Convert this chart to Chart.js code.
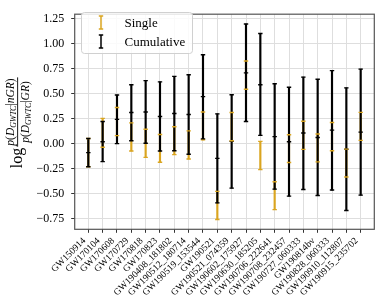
<!DOCTYPE html>
<html><head><meta charset="utf-8">
<script src="https://cdn.jsdelivr.net/npm/chart.js@4.4.1/dist/chart.umd.min.js"></script>
<style>html,body{margin:0;padding:0;background:#fff}#wrap{width:381px;height:301px}</style>
</head><body><div id="wrap"><canvas id="c" width="381" height="301"></canvas></div>
<script>
const labels = ['GW150914','GW170104','GW170608','GW170729','GW170818','GW170823','GW190408_181802','GW190512_180714','GW190519_153544','GW190521','GW190521_074359','GW190602_175927','GW190630_185205','GW190706_222641','GW190708_232457','GW190727_060333','GW190814bv','GW190828_060333','GW190910_112807','GW190915_235702'];
const cumLo  = [-0.231,-0.180,0.000,0.029,0.003,-0.074,-0.071,-0.106,0.048,-0.593,-0.446,0.221,0.083,-0.456,-0.526,-0.459,-0.519,-0.465,-0.670,-0.516];
const cumHi  = [0.051,0.221,0.487,0.589,0.631,0.618,0.673,0.689,0.890,0.298,0.490,1.198,1.102,0.599,0.564,0.666,0.644,0.731,0.558,0.746];
const cumMid = [-0.090,0.019,0.243,0.311,0.317,0.272,0.301,0.291,0.471,-0.148,0.022,0.708,0.589,0.070,0.019,0.106,0.061,0.135,-0.056,0.115];
const sglLo  = [-0.231,-0.036,0.080,-0.074,-0.138,-0.186,-0.110,-0.154,0.038,-0.760,0.029,0.544,-0.260,-0.661,-0.189,-0.058,-0.183,-0.071,-0.334,0.032];
const sglHi  = [0.051,0.253,0.362,0.208,0.144,0.092,0.169,0.128,0.317,-0.478,0.311,0.827,0.022,-0.382,0.089,0.224,0.096,0.212,-0.055,0.313];
const yTicks = [-0.75,-0.5,-0.25,0,0.25,0.5,0.75,1.0,1.25];
const seriesNames = ['Single','Cumulative'];

const ORANGE = '#DAA520', BLACK = '#000000';
const SERIF = '"Liberation Serif", "DejaVu Serif", serif';
Chart.defaults.font.family = SERIF;

const idx = labels.map((_, i) => i);
const caps = (arr) => arr.map((v, i) => ({x: i, y: v}));
const capDs = (data, color, order) => ({
  type: 'line', data, showLine: false, order,
  pointStyle: 'line', pointRadius: 2.2, pointHoverRadius: 2.2,
  pointBorderColor: color, pointBackgroundColor: color, pointBorderWidth: 1.4
});

const yLabelPlugin = {
  id: 'ylabel',
  afterDraw(chart) {
    const ctx = chart.ctx;
    const ca = chart.chartArea;
    const cy = (ca.top + ca.bottom) / 2 + 1;
    ctx.save();
    ctx.fillStyle = '#000';
    ctx.translate(0, cy);
    ctx.rotate(-Math.PI / 2);
    const big = 16, small = 11.5, sub = 8;
    const num = [{t:'p',i:1},{t:'('},{t:'D',i:1},{t:'GWTC',i:1,s:1},{t:'|'},{t:'nGR',i:1},{t:')'}];
    const den = [{t:'p',i:1},{t:'('},{t:'D',i:1},{t:'GWTC',i:1,s:1},{t:'|'},{t:'GR',i:1},{t:')'}];
    const fontOf = (p) => (p.i ? 'italic ' : '') + (p.s ? sub : small) + 'px ' + SERIF;
    const width = (parts) => parts.reduce((w, p) => { ctx.font = fontOf(p); return w + ctx.measureText(p.t).width; }, 0);
    const drawParts = (parts, u0, v) => {
      let u = u0;
      for (const p of parts) {
        ctx.font = fontOf(p);
        ctx.fillText(p.t, u, v + (p.s ? 2.2 : 0));
        u += ctx.measureText(p.t).width;
      }
    };
    ctx.font = big + 'px ' + SERIF;
    const wLog = ctx.measureText('log').width;
    const wn = width(num), wd = width(den);
    const wf = Math.max(wn, wd) + 2;
    const total = wLog + 1 + wf;
    const u0 = -total / 2;
    ctx.textBaseline = 'alphabetic';
    ctx.font = big + 'px ' + SERIF;
    ctx.fillText('log', u0, 21.5);
    const fu = u0 + wLog + 1;
    ctx.fillRect(fu, 17.2, wf, 0.9);
    drawParts(num, fu + (wf - wn) / 2, 13.5);
    drawParts(den, fu + (wf - wd) / 2, 28.5);
    ctx.restore();
  }
};

const framePlugin = {
  id: 'frame',
  afterDatasetsDraw(chart) {
    const {ctx, chartArea: a} = chart;
    ctx.save();
    ctx.strokeStyle = '#555555';
    ctx.lineWidth = 1.2;
    ctx.strokeRect(a.left, a.top, a.right - a.left, a.bottom - a.top);
    ctx.restore();
  }
};

const legendPlugin = {
  id: 'errLegend',
  afterDraw(chart) {
    const ctx = chart.ctx;
    ctx.save();
    const x = 81.5, y = 12.5, w = 111, h = 41, r = 3;
    ctx.beginPath();
    ctx.roundRect(x, y, w, h, r);
    ctx.fillStyle = 'rgba(255,255,255,0.85)';
    ctx.fill();
    ctx.strokeStyle = '#d0d0d0';
    ctx.lineWidth = 1;
    ctx.stroke();
    const items = [{c: ORANGE, cy: 22.5, ty: 23.5}, {c: BLACK, cy: 41.5, ty: 42.5}];
    items.forEach((it, k) => {
      ctx.strokeStyle = it.c;
      ctx.lineWidth = 1.5;
      ctx.beginPath();
      ctx.moveTo(101, it.cy - 6.5); ctx.lineTo(101, it.cy + 6.5);
      ctx.moveTo(98.8, it.cy - 6.5); ctx.lineTo(103.2, it.cy - 6.5);
      ctx.moveTo(98.8, it.cy + 6.5); ctx.lineTo(103.2, it.cy + 6.5);
      ctx.stroke();
      ctx.fillStyle = '#000';
      ctx.font = '13px ' + SERIF;
      ctx.textBaseline = 'middle';
      ctx.fillText(seriesNames[k], 124.5, it.ty);
    });
    ctx.restore();
  }
};

new Chart(document.getElementById('c'), {
  type: 'bar',
  data: {
    datasets: [
      {type: 'bar', label: seriesNames[0], data: idx.map(i => ({x: i, y: [sglLo[i], sglHi[i]]})),
       backgroundColor: ORANGE, barThickness: 1.5, grouped: false, borderWidth: 0, order: 6},
      {type: 'bar', label: seriesNames[1], data: idx.map(i => ({x: i, y: [cumLo[i], cumHi[i]]})),
       backgroundColor: BLACK, barThickness: 1.5, grouped: false, borderWidth: 0, order: 5},
      capDs(caps(cumMid), BLACK, 4),
      capDs(caps(sglLo).concat(caps(sglHi)), ORANGE, 3),
      capDs(caps(cumLo).concat(caps(cumHi)), BLACK, 2)
    ]
  },
  options: {
    responsive: false,
    animation: false,
    events: [],
    layout: {padding: {top: 5.7, right: 6.7, left: 0, bottom: 0}},
    plugins: {legend: {display: false}, tooltip: {enabled: false}},
    scales: {
      x: {
        type: 'linear', min: -0.95, max: 19.95, offset: false,
        afterBuildTicks: (s) => { s.ticks = idx.map(i => ({value: i})); },
        afterFit: (s) => { s.height = 71.7; },
        grid: {color: '#dedede', lineWidth: 1, tickLength: 3.5, tickColor: '#333', tickWidth: 1, offset: false},
        border: {display: false},
        ticks: {autoSkip: false, minRotation: 45, maxRotation: 45, padding: 2.5, labelOffset: -4, color: '#000',
                font: {size: 9.5, family: SERIF}, callback: (v) => labels[v] ?? ''}
      },
      y: {
        type: 'linear', min: -0.858, max: 1.296,
        afterBuildTicks: (s) => { s.ticks = yTicks.map(v => ({value: v})); },
        afterFit: (s) => { s.width = 74.7; },
        grid: {color: '#dedede', lineWidth: 1, tickLength: 3.5, tickColor: '#333', tickWidth: 1},
        border: {display: false},
        ticks: {padding: 7, color: '#000', font: {size: 12, family: SERIF},
                callback: (v) => v.toFixed(2).replace('-', '\u2212')}
      }
    }
  },
  plugins: [framePlugin, yLabelPlugin, legendPlugin]
});
</script></body></html>
